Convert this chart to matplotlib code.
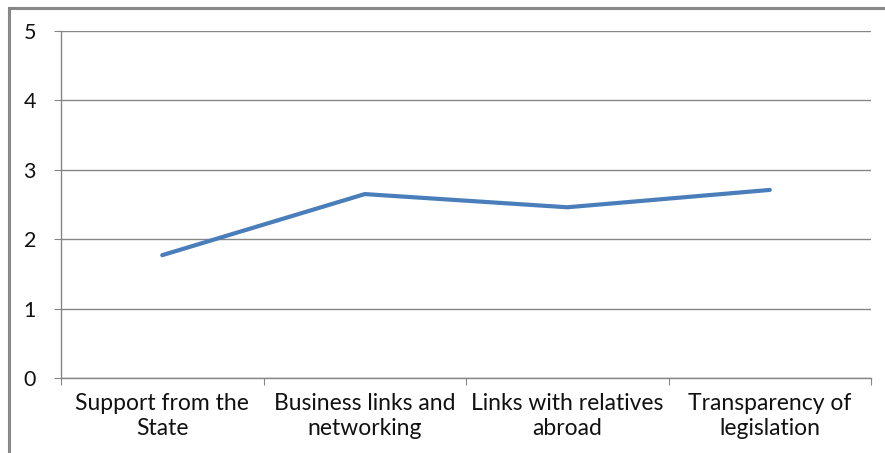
import numpy as np
import matplotlib.pyplot as plt
from matplotlib.lines import Line2D

# data
categories = ["Support from the\nState", "Business links and\nnetworking",
              "Links with relatives\nabroad", "Transparency of\nlegislation"]
values = [1.77, 2.65, 2.46, 2.71]
y_ticks = [0, 1, 2, 3, 4, 5]

plt.rcParams['font.family'] = ['Lato', 'DejaVu Sans']

W, H = 885, 453
fig = plt.figure(figsize=(W / 100, H / 100), dpi=100, facecolor='white')
ax = fig.add_axes([61 / W, (H - 378) / H, (871 - 61) / W, (378 - 31) / H])

grey = '#868686'
x = np.arange(len(categories)) + 0.5
ax.plot(x, values, color='#4a7ebb', lw=3, solid_capstyle='round', zorder=3)

ax.set_xlim(0, len(categories))
ax.set_ylim(0, 5)
ax.set_yticks(y_ticks)
ax.set_yticklabels([str(t) for t in y_ticks], fontsize=15.5, color='#111111')
ax.grid(axis='y', color=grey, lw=1)
ax.set_axisbelow(True)

ax.set_xticks(np.arange(len(categories) + 1))
ax.set_xticklabels([])
ax.set_xticks(x, minor=True)
ax.set_xticklabels(categories, minor=True, fontsize=16.5, color='#111111',
                   linespacing=1.2)
ax.tick_params(axis='x', which='major', length=5, color=grey, direction='out')
ax.tick_params(axis='x', which='minor', length=0, pad=11)
ax.tick_params(axis='y', length=5, color=grey, pad=13)

for s in ['top', 'right']:
    ax.spines[s].set_visible(False)
for s in ['left', 'bottom']:
    ax.spines[s].set_color(grey)
    ax.spines[s].set_linewidth(1)

# outer frame (left and top edges only)
fig.add_artist(Line2D([9 / W, 9 / W], [0, 1 - 8 / H], transform=fig.transFigure,
                      color='#888888', lw=2.2))
fig.add_artist(Line2D([9 / W, 1], [1 - 8 / H, 1 - 8 / H], transform=fig.transFigure,
                      color='#888888', lw=2.2))

fig.savefig('out.png', dpi=100)
